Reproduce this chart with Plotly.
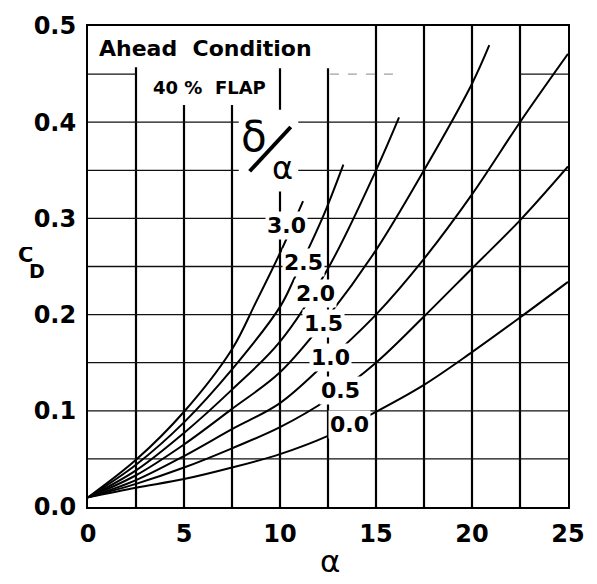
import plotly.graph_objects as go

# ---- data (alpha in degrees, C_D) ----
ratios = ["0.0", "0.5", "1.0", "1.5", "2.0", "2.5", "3.0"]

alpha_00 = [0, 2.5, 5, 7.5, 10, 12.5, 15, 17.5, 20, 22.5, 25]
cd_00 = [0.010, 0.020, 0.029, 0.041, 0.055, 0.074, 0.099, 0.127, 0.161, 0.197, 0.234]

alpha_05 = [0, 2.5, 5, 7.5, 10, 12.5, 15, 17.5, 20, 22.5, 25]
cd_05 = [0.010, 0.024, 0.041, 0.061, 0.083, 0.112, 0.150, 0.198, 0.248, 0.298, 0.354]

alpha_10 = [0, 2.5, 5, 7.5, 10, 12.5, 15, 17.5, 20, 22.5, 25]
cd_10 = [0.010, 0.028, 0.053, 0.081, 0.108, 0.152, 0.200, 0.258, 0.325, 0.400, 0.471]

alpha_15 = [0, 2.5, 5, 7.5, 10, 12.5, 15, 17.5, 20, 20.9]
cd_15 = [0.010, 0.033, 0.065, 0.102, 0.140, 0.198, 0.267, 0.350, 0.440, 0.480]

alpha_20 = [0, 2.5, 5, 7.5, 10, 12.5, 15, 16.2]
cd_20 = [0.010, 0.038, 0.077, 0.122, 0.172, 0.248, 0.350, 0.405]

alpha_25 = [0, 2.5, 5, 7.5, 10, 10.8, 12.2, 13.3]
cd_25 = [0.010, 0.044, 0.088, 0.143, 0.208, 0.240, 0.300, 0.356]

alpha_30 = [0, 2.5, 5, 7.5, 8.75, 10, 11.2]
cd_30 = [0.010, 0.049, 0.099, 0.164, 0.213, 0.264, 0.318]

# inline label positions (alpha, C_D) for each curve
label_alpha = [13.62, 13.16, 12.65, 12.24, 11.84, 11.22, 10.36]
label_cd = [0.086, 0.121, 0.155, 0.191, 0.222, 0.254, 0.293]

x_ticks = [0, 5, 10, 15, 20, 25]
x_ticktext = ["0", "5", "10", "15", "20", "25"]
y_ticks = [0.0, 0.1, 0.2, 0.3, 0.4, 0.5]
y_ticktext = ["0.0", "0.1", "0.2", "0.3", "0.4", "0.5"]

series = [(alpha_00, cd_00), (alpha_05, cd_05), (alpha_10, cd_10), (alpha_15, cd_15),
          (alpha_20, cd_20), (alpha_25, cd_25), (alpha_30, cd_30)]

FONT = "DejaVu Sans"

fig = go.Figure()
for (xs, ys), r in zip(series, ratios):
    fig.add_trace(go.Scatter(x=xs, y=ys, mode="lines", name=r,
                             line=dict(color="black", width=2, shape="spline", smoothing=1.0),
                             showlegend=False, hoverinfo="skip"))

shapes = []
# vertical grid lines (x, top)
vgrid = [(2.5, 0.457), (5, 0.418), (7.5, 0.418), (10, 0.456), (12.5, 0.456),
         (15, 0.5), (17.5, 0.5), (20, 0.5), (22.5, 0.5)]
for xv, top in vgrid:
    shapes.append(dict(type="line", xref="x", yref="y", x0=xv, x1=xv, y0=0, y1=top,
                       line=dict(color="black", width=2.2), layer="below"))
# horizontal grid lines
for yv in [0.05, 0.10, 0.15, 0.20, 0.25, 0.30, 0.35, 0.40]:
    shapes.append(dict(type="line", xref="x", yref="y", x0=0, x1=25, y0=yv, y1=yv,
                       line=dict(color="#111", width=1.3), layer="below"))
for x0, x1 in [(0, 2.5), (22.5, 25)]:
    shapes.append(dict(type="line", xref="x", yref="y", x0=x0, x1=x1, y0=0.45, y1=0.45,
                       line=dict(color="#111", width=1.3), layer="below"))
shapes.append(dict(type="line", xref="x", yref="y", x0=12.6, x1=16, y0=0.45, y1=0.45,
                   line=dict(color="#888", width=1, dash="dash"), layer="below"))
# clear area behind delta/alpha symbol
shapes.append(dict(type="rect", xref="x", yref="y", x0=7.85, x1=10.95, y0=0.328, y1=0.413,
                   fillcolor="white", line=dict(width=0), layer="above"))
# slash of delta/alpha
shapes.append(dict(type="line", xref="x", yref="y", x0=8.42, y0=0.349, x1=10.56, y1=0.395,
                   line=dict(color="black", width=4), layer="above"))

annotations = []
for t, xa, ya in zip(ratios, label_alpha, label_cd):
    annotations.append(dict(x=xa, y=ya, xref="x", yref="y", text=t, showarrow=False,
                            font=dict(family=FONT, size=22, color="black", weight="bold"),
                            bgcolor="white", borderpad=1, xanchor="center", yanchor="middle"))

annotations += [
    dict(x=0.46, y=0.4765, xref="x", yref="y", text="Ahead\u00a0\u00a0Condition", showarrow=False,
         font=dict(family=FONT, size=22, color="black", weight="bold"), xanchor="left", yanchor="middle"),
    dict(x=3.27, y=0.4357, xref="x", yref="y", text="40 %\u00a0\u00a0FLAP", showarrow=False,
         font=dict(family=FONT, size=18, color="black", weight="bold"), xanchor="left", yanchor="middle"),
    dict(x=8.62, y=0.385, xref="x", yref="y", text="δ", showarrow=False,
         font=dict(family=FONT, size=42, color="black"), xanchor="center", yanchor="middle"),
    dict(x=10.15, y=0.352, xref="x", yref="y", text="α", showarrow=False,
         font=dict(family=FONT, size=32, color="black"), xanchor="center", yanchor="middle"),
    dict(x=12.6, y=-0.112, xref="x", yref="paper", text="α", showarrow=False,
         font=dict(family=FONT, size=31, color="black"), xanchor="center", yanchor="middle"),
    dict(x=-0.13, y=(507 - 250) / 490, xref="paper", yref="paper", text="C", showarrow=False,
         height=16, font=dict(family=FONT, size=21, color="black", weight="bold"),
         xanchor="center", yanchor="middle"),
    dict(x=-0.107, y=(507 - 267) / 490, xref="paper", yref="paper", text="D", showarrow=False,
         height=16, font=dict(family=FONT, size=19, color="black", weight="bold"),
         xanchor="center", yanchor="middle"),
]

fig.update_layout(
    width=597, height=584, autosize=False,
    margin=dict(l=88, r=19, t=17, b=77, pad=0),
    paper_bgcolor="white", plot_bgcolor="white",
    shapes=shapes, annotations=annotations,
    xaxis=dict(range=[0, 25], showgrid=False, zeroline=False, showline=True, mirror=True,
               linecolor="black", linewidth=2, tickvals=x_ticks, ticktext=x_ticktext, ticks="",
               ticklabelstandoff=4,
               tickfont=dict(family=FONT, size=24, color="black", weight="bold")),
    yaxis=dict(range=[0, 0.5], showgrid=False, zeroline=False, showline=True, mirror=True,
               linecolor="black", linewidth=2, tickvals=y_ticks, ticktext=y_ticktext, ticks="",
               ticklabelstandoff=5,
               tickfont=dict(family=FONT, size=24, color="black", weight="bold")),
)

fig.write_html("out.html")
